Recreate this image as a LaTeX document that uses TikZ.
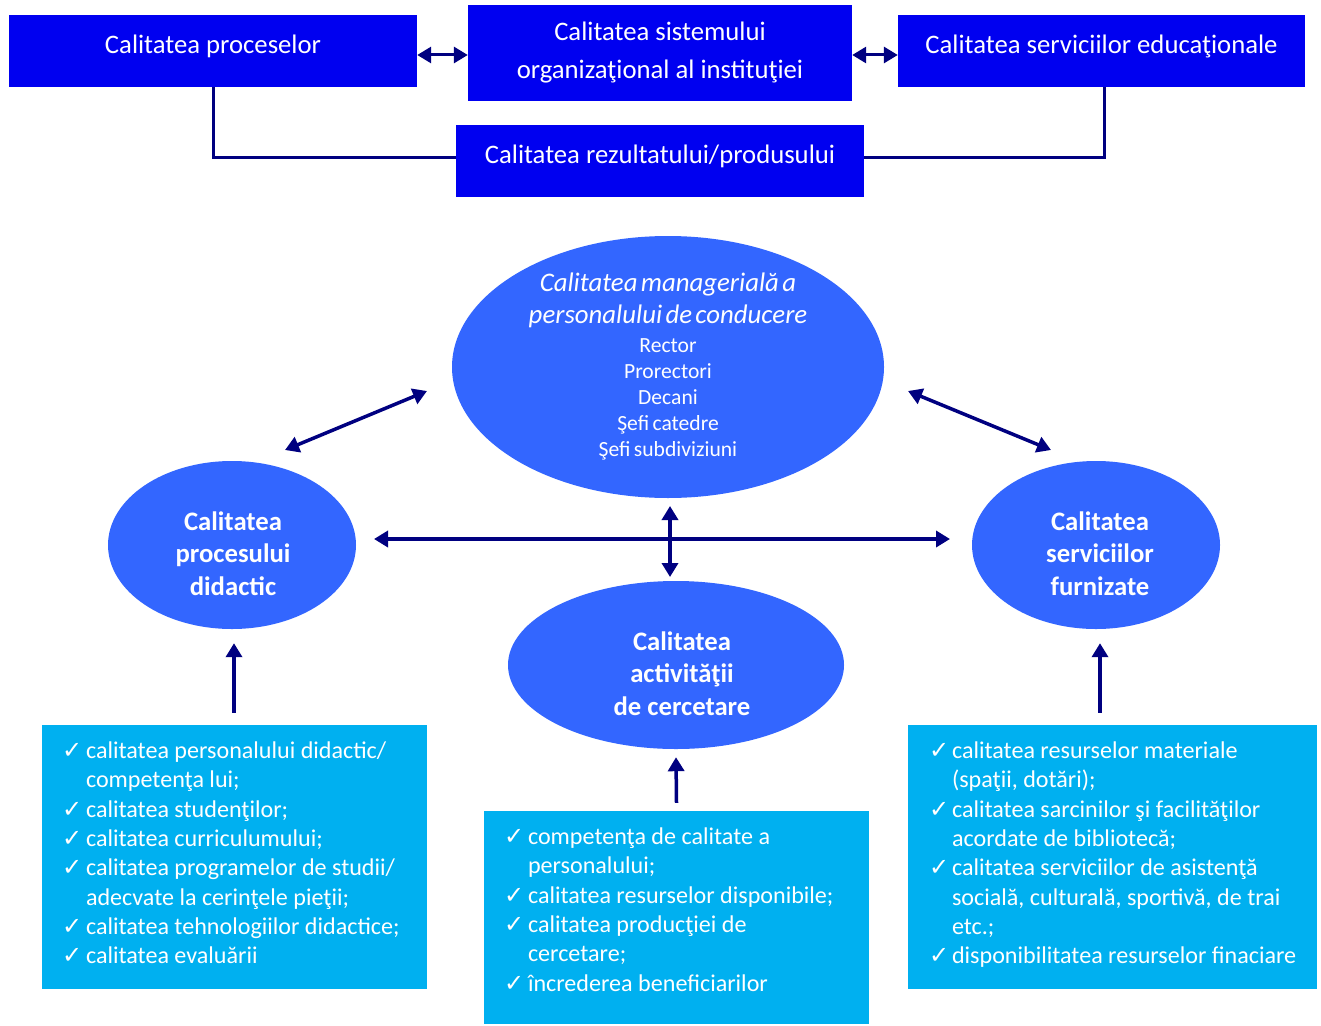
\documentclass[tikz,border=0pt]{standalone}
\usepackage{fontspec}
\setmainfont{Carlito}
\newfontfamily\chkfont{DejaVu Sans}
\usetikzlibrary{arrows.meta,calc,shapes.geometric}
\definecolor{topblue}{RGB}{0,0,240}
\definecolor{ellblue}{RGB}{51,102,255}
\definecolor{listblue}{RGB}{0,176,240}
\definecolor{navyc}{RGB}{0,0,128}
\newcommand\ckm{\makebox[24pt][l]{\chkfont\fontsize{24}{24}\selectfont ✓}}
\newcommand\ckr{\makebox[23pt][l]{\chkfont\fontsize{24}{24}\selectfont ✓}}
\newcommand\listL{\begin{tabular}{@{}l@{}l@{}}
\ckm & calitatea personalului didactic/\\
 & competenţa lui;\\
\ckm & calitatea studenţilor;\\
\ckm & calitatea curriculumului;\\
\ckm & calitatea programelor de studii/\\
 & adecvate la cerinţele pieţii;\\
\ckm & calitatea tehnologiilor didactice;\\
\ckm & calitatea evaluării
\end{tabular}}
\newcommand\listM{\begin{tabular}{@{}l@{}l@{}}
\ckm & competenţa de calitate a\\
 & personalului;\\
\ckm & calitatea resurselor disponibile;\\
\ckm & calitatea producţiei de\\
 & cercetare;\\
\ckm & încrederea beneficiarilor
\end{tabular}}
\newcommand\listR{\begin{tabular}{@{}l@{}l@{}}
\ckr & calitatea resurselor materiale\\
 & (spaţii, dotări);\\
\ckr & calitatea sarcinilor şi facilităţilor\\
 & acordate de bibliotecă;\\
\ckr & calitatea serviciilor de asistenţă\\
 & socială, culturală, sportivă, de trai\\
 & etc.;\\
\ckr & disponibilitatea resurselor finaciare
\end{tabular}}
\newcommand\mgmtText{{\fontsize{26.8}{32}\selectfont\itshape Calitatea managerială a\\personalului de conducere\par}\vspace{3pt}{\fontsize{21.6}{26}\selectfont Rector\\Prorectori\\Decani\\Şefi catedre\\Şefi subdiviziuni\par}}
\begin{document}
\begin{tikzpicture}[x=1pt,y=-1pt,
  topbox/.style={fill=topblue, text=white, minimum height=72pt, inner sep=0pt,
    font=\fontsize{26.7}{38}\selectfont, align=center},
  ell/.style={ellipse, fill=ellblue, inner sep=0pt},
  elltext/.style={text=white, inner sep=0pt, align=center},
  boldtext/.style={elltext, font=\bfseries\fontsize{26.7}{32.5}\selectfont, yshift=-8.5pt},
  listbox/.style={fill=listblue, inner sep=0pt},
  listtext/.style={anchor=north west, inner sep=0pt, text=white, xshift=20pt, yshift=-13pt,
    font=\fontsize{24.1}{29.3}\selectfont},
  arr/.style={draw=navyc, line width=3.5pt, {Triangle[length=14pt,width=16pt]}-{Triangle[length=14pt,width=16pt]}},
  uparr/.style={draw=navyc, line width=3.5pt, -{Triangle[length=14pt,width=16pt]}},
  conn/.style={draw=navyc, line width=3pt},
]
\fill[white] (0,0) rectangle (1321,1025);
\useasboundingbox (0,0) rectangle (1321,1025);

% top boxes
\node[topbox, minimum width=408pt] (b1) at (213,51) {\raisebox{14pt}{Calitatea proceselor}};
\node[topbox, minimum width=384pt, minimum height=96pt] (b2) at (660,53) {Calitatea sistemului\\organizaţional al instituţiei};
\node[topbox, minimum width=407pt] (b3) at (1101.5,51) {\raisebox{14pt}{Calitatea serviciilor educaţionale}};
\node[topbox, minimum width=408pt] (b4) at (660,161) {\raisebox{14pt}{Calitatea rezultatului/produsului}};

\draw[arr, line width=3pt] ([yshift=-4pt]b1.east) -- ([yshift=-2pt]b2.west);
\draw[arr, line width=3pt] ([yshift=-2pt]b2.east) -- ([yshift=-4pt]b3.west);
\draw[conn] (b1.south) |- ([yshift=4pt]b4.west);
\draw[conn] ([xshift=2.5pt]b3.south) |- ([yshift=4pt]b4.east);

% ellipses
\node[ell, minimum width=432pt, minimum height=262pt,
  label={[elltext, text width=420pt]center:\mgmtText}] (eT) at (668,367) {};
\node[ell, minimum width=248pt, minimum height=168pt,
  label={[boldtext, xshift=1pt]center:Calitatea\\procesului\\didactic}] (eL) at (232,545) {};
\node[ell, minimum width=248pt, minimum height=168pt,
  label={[boldtext, xshift=4pt]center:Calitatea\\serviciilor\\furnizate}] (eR) at (1096,545) {};
\node[ell, minimum width=336pt, minimum height=168pt,
  label={[boldtext, xshift=6pt]center:Calitatea\\activităţii\\de cercetare}] (eB) at (676,665) {};

% arrows between ellipses
\draw[arr] ($(eL)+(53,-95)$) -- ($(eT)+(-241,24)$);
\draw[arr] ($(eT)+(240,24)$) -- ($(eR)+(-45,-95)$);
\draw[arr] ($(eL)+(142,-6)$) -- ($(eR)+(-146,-6)$);
\draw[arr] ($(eT)+(2,139)$) -- ($(eB)+(-6,-88)$);

% list boxes
\node[listbox, minimum width=385pt, minimum height=264pt,
  label={[listtext]north west:\listL}] (bL) at (234.5,857) {};
\node[listbox, minimum width=385pt, minimum height=213pt,
  label={[listtext]north west:\listM}] (bM) at (676.5,917.5) {};
\node[listbox, minimum width=409pt, minimum height=264pt,
  label={[listtext, xshift=1pt]north west:\listR}] (bR) at (1112.5,857) {};

\draw[uparr] ($(bL.north)+(-0.5,-12)$) -- ($(eL.south)+(2,14)$);
\draw[uparr] ($(bM.north)+(0,-8)$) -- ($(eB.south)+(0,8)$);
\draw[uparr] ($(bR.north)+(-12.5,-12)$) -- ($(eR.south)+(4,14)$);
\end{tikzpicture}
\end{document}
